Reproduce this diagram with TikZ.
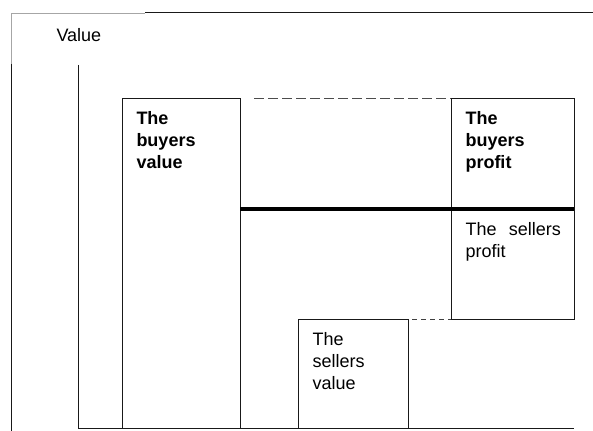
\documentclass[tikz,border=0pt]{standalone}
\usepackage{fontspec}
\setmainfont{Liberation Sans}
\begin{document}
\begin{tikzpicture}[x=0.75pt,y=-0.75pt,line width=0.75pt,
  lbl/.style={anchor=north west,inner sep=0pt,font=\fontsize{13.5}{16.5}\selectfont,align=left},
  blbl/.style={lbl,font=\fontsize{13.5}{16.5}\selectfont\bfseries},
  box/.style={draw=black!90,line width=0.75pt},
  frame/.style={draw=black!35,line width=0.6pt},
  guide/.style={draw=black!70,dash pattern=on 7.5pt off 3pt,line width=0.75pt},
  shortguide/.style={draw=black!75,dash pattern=on 3.75pt off 3pt,line width=0.75pt},
  divider/.style={draw=black,line width=3pt}]
\useasboundingbox (0,0) rectangle (593,431);
% frame lines
\coordinate (tl) at (11,13);
\coordinate (tm) at (145,13);
\coordinate (tr) at (593,13);
\coordinate (lg) at (11,64);
\coordinate (lb) at (11,431);
\draw[frame] (lg) -- (tl) -- (tm);
\draw[box] (tm) -- (tr);
\draw[box] (lg) -- (lb);
% axes
\coordinate (axtop) at (78,65);
\coordinate (orig) at (78,428);
\coordinate (axend) at (574,428);
\draw[box] (axtop) -- (orig) -- (axend);
\node[lbl] (value) at (56,28) {Value};
% boxes
\coordinate (bvA) at (122,99);
\coordinate (bvB) at (240,428);
\coordinate (bpA) at (451,99);
\coordinate (bpB) at (574,319);
\coordinate (svA) at (298,319);
\coordinate (svB) at (408,428);
\draw[box] (bvA) rectangle (bvB);
\draw[box] (bpA) rectangle (bpB);
\draw[box] (svA) rectangle (svB);
% divider
\coordinate (dA) at (240,209);
\coordinate (dB) at (574,209);
\draw[divider] (dA) -- (dB);
% dashed guides
\coordinate (g1a) at (254,99);
\coordinate (g2a) at (412,319);
\coordinate (bpSW) at (451,319);
\draw[guide] (g1a) -- (bpA);
\draw[shortguide] (g2a) -- (bpSW);
% labels
\node[blbl] (bvt) at (136,111) {The\\buyers\\value};
\node[blbl] (bpt) at (465,111) {The\\buyers\\profit};
\node[lbl,text width=71.5pt,align=justify] (spt) at (465,222) {The sellers profit};
\node[lbl] (svt) at (312,332) {The\\sellers\\value};
\end{tikzpicture}
\end{document}
